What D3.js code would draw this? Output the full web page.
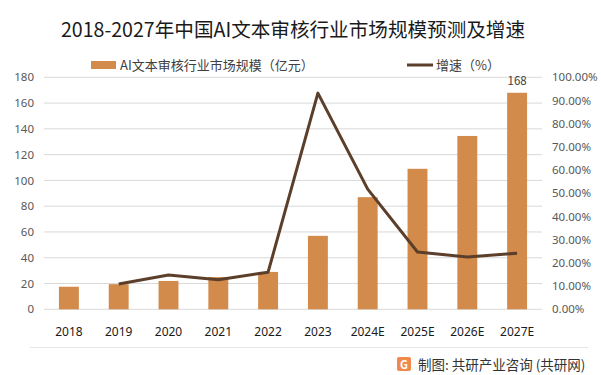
<!DOCTYPE html>
<html>
<head>
<meta charset="utf-8">
<script src="https://cdn.jsdelivr.net/npm/d3@7"></script>
<style>
  body { margin: 0; background: #fff; }
  svg { display: block; font-family: "Noto Sans CJK SC", "Noto Sans", sans-serif; }
</style>
</head>
<body>
<div id="chart"></div>
<script>
const years = ['2018', '2019', '2020', '2021', '2022', '2023', '2024E', '2025E', '2026E', '2027E'];
const marketSize = [17.5, 19.5, 22, 25, 29, 57, 87, 109, 134.5, 168];
const growthRate = [null, 10.9, 14.8, 12.7, 16, 93.2, 51.8, 24.7, 22.5, 24.2];
const leftTicks = [0, 20, 40, 60, 80, 100, 120, 140, 160, 180];
const rightTicks = [0, 10, 20, 30, 40, 50, 60, 70, 80, 90, 100];

const width = 601;
const height = 375;
const plot = { left: 44, right: 542, top: 77.3, bottom: 309.3 };

const svg = d3.select('#chart').append('svg').attr('width', width).attr('height', height);

const x = d3.scaleBand().domain(years).range([plot.left, plot.right]).paddingInner(0.6).paddingOuter(0.3);
const band = d3.scaleBand().domain(years).range([plot.left, plot.right]);
const yLeft = d3.scaleLinear().domain([0, 180]).range([plot.bottom, plot.top]);
const yRight = d3.scaleLinear().domain([0, 100]).range([plot.bottom, plot.top]);

// title
svg.append('text')
  .attr('x', 293).attr('y', 37)
  .attr('text-anchor', 'middle')
  .attr('font-size', 19.6)
  .attr('fill', '#1a1a1a')
  .text('2018-2027年中国AI文本审核行业市场规模预测及增速');

// legend
svg.append('rect').attr('x', 91).attr('y', 61).attr('width', 25).attr('height', 8).attr('fill', '#d38b4c');
svg.append('text').attr('x', 120).attr('y', 69.5).attr('font-size', 13).attr('fill', '#404040')
  .text('AI文本审核行业市场规模（亿元）');
svg.append('line').attr('x1', 407).attr('x2', 433).attr('y1', 65).attr('y2', 65)
  .attr('stroke', '#5b3f2a').attr('stroke-width', 3);
svg.append('text').attr('x', 436).attr('y', 69.5).attr('font-size', 13).attr('fill', '#404040')
  .text('增速（%）');

// gridlines
svg.append('g').selectAll('line').data(leftTicks).join('line')
  .attr('x1', plot.left).attr('x2', plot.right)
  .attr('y1', (d) => yLeft(d)).attr('y2', (d) => yLeft(d))
  .attr('stroke', '#d9d9d9').attr('stroke-width', 1);

// left axis
const leftAxis = svg.append('g')
  .attr('transform', `translate(${plot.left - 10},0)`)
  .call(d3.axisLeft(yLeft).tickValues(leftTicks).tickSize(0).tickPadding(0));
leftAxis.select('.domain').remove();
leftAxis.selectAll('text').attr('font-size', 11.5).attr('fill', '#595959').attr('font-family', '"Noto Sans", sans-serif');

// right axis
const rightAxis = svg.append('g')
  .attr('transform', `translate(${plot.right + 10},0)`)
  .call(d3.axisRight(yRight).tickValues(rightTicks).tickSize(0).tickPadding(0)
    .tickFormat((d) => d.toFixed(2) + '%'));
rightAxis.select('.domain').remove();
rightAxis.selectAll('text').attr('font-size', 11.5).attr('fill', '#595959').attr('font-family', '"Noto Sans", sans-serif');

// bars
svg.append('g').selectAll('rect').data(marketSize).join('rect')
  .attr('x', (d, i) => x(years[i]))
  .attr('width', x.bandwidth())
  .attr('y', (d) => yLeft(d))
  .attr('height', (d) => yLeft(0) - yLeft(d))
  .attr('fill', '#d38b4c');

// last value label
svg.append('text')
  .attr('x', x(years[9]) + x.bandwidth() / 2)
  .attr('y', yLeft(marketSize[9]) - 8)
  .attr('text-anchor', 'middle')
  .attr('font-size', 11.5).attr('fill', '#404040')
  .text(marketSize[9]);

// growth line
const lineData = years.map((year, i) => ({ year, value: growthRate[i] })).filter((d) => d.value !== null);
svg.append('path')
  .datum(lineData)
  .attr('d', d3.line().x((d) => band(d.year) + band.bandwidth() / 2).y((d) => yRight(d.value)))
  .attr('fill', 'none')
  .attr('stroke', '#5b3f2a')
  .attr('stroke-width', 3)
  .attr('stroke-linejoin', 'round');

// x axis labels
const xAxis = svg.append('g')
  .attr('transform', `translate(0,${plot.bottom + 12})`)
  .call(d3.axisBottom(band).tickSize(0).tickPadding(6));
xAxis.select('.domain').remove();
xAxis.selectAll('text').attr('font-size', 12).attr('fill', '#1a1a1a').attr('font-family', '"Noto Sans", sans-serif');

// footer separator
svg.append('line').attr('x1', 30).attr('x2', 588).attr('y1', 347.5).attr('y2', 347.5)
  .attr('stroke', '#e6e6e6').attr('stroke-width', 1);

// footer logo + text
const logo = svg.append('g').attr('transform', 'translate(397,357)');
logo.append('rect').attr('width', 14).attr('height', 14).attr('rx', 2).attr('fill', '#f08a4b');
logo.append('text').attr('x', 7).attr('y', 11.5).attr('text-anchor', 'middle')
  .attr('font-size', 11).attr('font-weight', 'bold').attr('fill', '#fff').text('G');
svg.append('text').attr('x', 418).attr('y', 369.5).attr('font-size', 13.5).attr('fill', '#333')
  .text('制图: 共研产业咨询 (共研网)');
</script>
</body>
</html>
